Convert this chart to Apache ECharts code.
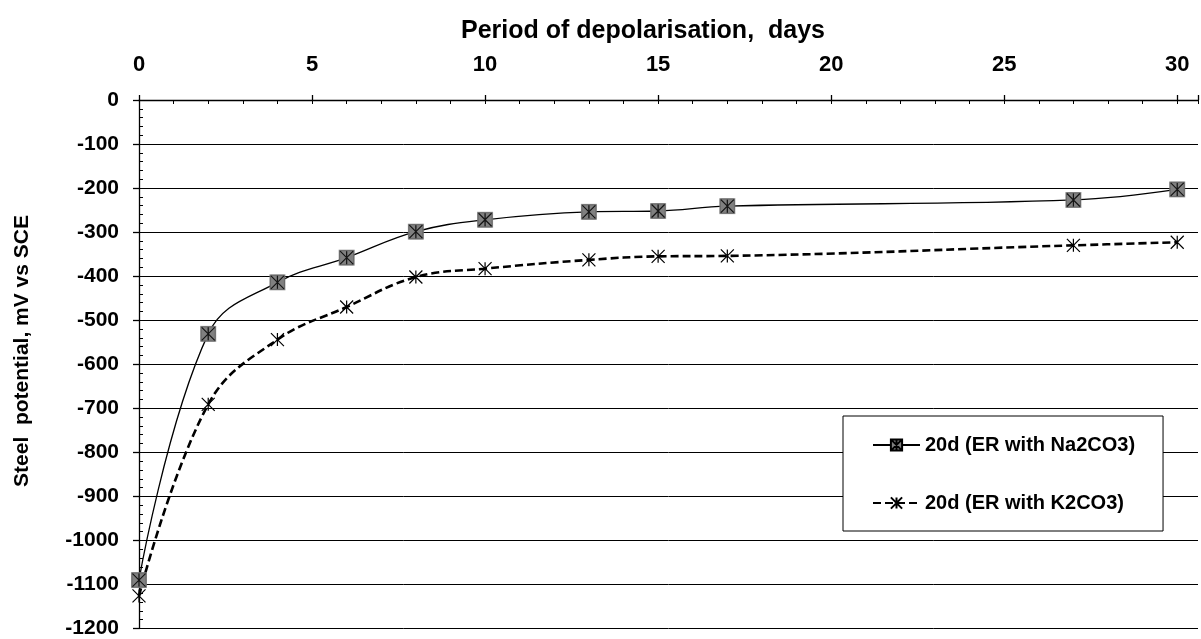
<!DOCTYPE html>
<html>
<head>
<meta charset="utf-8">
<script src="https://cdn.jsdelivr.net/npm/echarts@6/dist/echarts.min.js"></script>
<style>
html,body{margin:0;padding:0;background:#fff;}
#chart{width:1201px;height:639px;}
</style>
</head>
<body>
<div id="chart"></div>
<script>
// ---- data ----
const days = [0, 2, 4, 6, 8, 10, 13, 15, 17, 27, 30];
const na2co3 = [-1090, -531, -414, -358, -299, -272, -254, -252, -241, -227, -203];
const k2co3 = [-1126, -691, -544, -470, -402, -383, -363, -355, -354, -330, -323];
const xLabelStep = 5;
const seriesNames = ['20d (ER with Na2CO3)', '20d (ER with K2CO3)'];
const titleText = 'Period of depolarisation,  days';
const yName = 'Steel  potential, mV vs SCE';

const naPts = days.map((d, i) => [d, na2co3[i]]);
const kPts = days.map((d, i) => [d, k2co3[i]]);

const FONT = "'Liberation Sans', Arial, sans-serif";
const ASTER = 'path://M0,0L10,10M10,0L0,10M5,0L5,10';
const SQ_ASTER = 'path://M0,0L10,0L10,10L0,10Z M0,0L10,10M10,0L0,10M5,0L5,10';

const chart = echarts.init(document.getElementById('chart'), null, {renderer: 'canvas'});
chart.setOption({
  animation: false,
  backgroundColor: '#fff',
  textStyle: {fontFamily: FONT},
  title: {
    text: titleText,
    left: 456, top: 14,
    textStyle: {fontFamily: FONT, fontWeight: 'bold', fontSize: 25, color: '#000'}
  },
  graphic: [{
    type: 'text', x: 22, y: 351, rotation: Math.PI / 2,
    style: {text: yName, font: "bold 21px 'Liberation Sans', Arial, sans-serif",
      fill: '#000', textAlign: 'center', textVerticalAlign: 'middle'}
  }],
  legend: {
    data: seriesNames,
    orient: 'vertical',
    left: 843, top: 416,
    padding: [19, 28, 18, 29],
    itemGap: 38,
    itemWidth: 47, itemHeight: 14,
    backgroundColor: '#fff',
    borderColor: '#000', borderWidth: 1,
    textStyle: {fontFamily: FONT, fontWeight: 'bold', fontSize: 20, color: '#000'},
    selectedMode: false
  },
  grid: {left: 139, top: 100, right: 1, bottom: 6, containLabel: false},
  xAxis: [{
    type: 'value', position: 'top', min: 0, max: 30.6, interval: xLabelStep,
    axisLine: {show: true, lineStyle: {color: '#000', width: 1.3}},
    axisTick: {show: true, length: 5, lineStyle: {color: '#000', width: 1.3}},
    axisLabel: {margin: 24, fontFamily: FONT, fontWeight: 'bold', fontSize: 22, color: '#000',
      formatter: v => (Math.abs(v % xLabelStep) < 1e-9 ? String(v) : '')},
    splitLine: {show: false}
  }, {
    type: 'value', position: 'top', min: 0, max: 30.6, interval: 1,
    axisLine: {show: false},
    axisTick: {show: true, inside: true, length: 4, lineStyle: {color: '#000', width: 1}},
    axisLabel: {show: false},
    splitLine: {show: false}
  }],
  yAxis: [{
    type: 'value', min: -1200, max: 0, interval: 100,
    axisLine: {show: true, lineStyle: {color: '#000', width: 1.3}},
    axisTick: {show: true, length: 6, lineStyle: {color: '#000', width: 1.3}},
    axisLabel: {margin: 20, fontFamily: FONT, fontWeight: 'bold', fontSize: 21, color: '#000',
      formatter: v => String(v)},
    splitLine: {show: true, lineStyle: {color: '#000', width: 1}}
  }, {
    type: 'value', min: -1200, max: 0, interval: 20, position: 'left',
    axisLine: {show: false},
    axisTick: {show: true, inside: true, length: 4, lineStyle: {color: '#000', width: 1}},
    axisLabel: {show: false},
    splitLine: {show: false}
  }],
  series: [{
    name: seriesNames[0], type: 'line', data: naPts, smooth: 0.4,
    symbol: SQ_ASTER, symbolSize: 14,
    lineStyle: {color: '#000', width: 1.3},
    itemStyle: {color: '#808080', borderColor: '#000', borderWidth: 1},
    emphasis: {disabled: true}, z: 3
  }, {
    name: 'naCover', type: 'scatter', data: naPts,
    symbol: 'rect', symbolSize: 16,
    itemStyle: {color: '#808080'}, silent: true, z: 4
  }, {
    name: 'naAster', type: 'scatter', data: naPts,
    symbol: ASTER, symbolSize: 13,
    itemStyle: {color: 'rgba(0,0,0,0)', borderColor: '#000', borderWidth: 1.2}, silent: true, z: 5
  }, {
    name: seriesNames[1], type: 'line', data: kPts, smooth: 0.4,
    symbol: ASTER, symbolSize: 13,
    lineStyle: {color: '#000', width: 2.6, type: [8, 4]},
    itemStyle: {color: 'rgba(0,0,0,0)', borderColor: '#000', borderWidth: 1.2},
    emphasis: {disabled: true}, z: 3
  }]
});
</script>
</body>
</html>
